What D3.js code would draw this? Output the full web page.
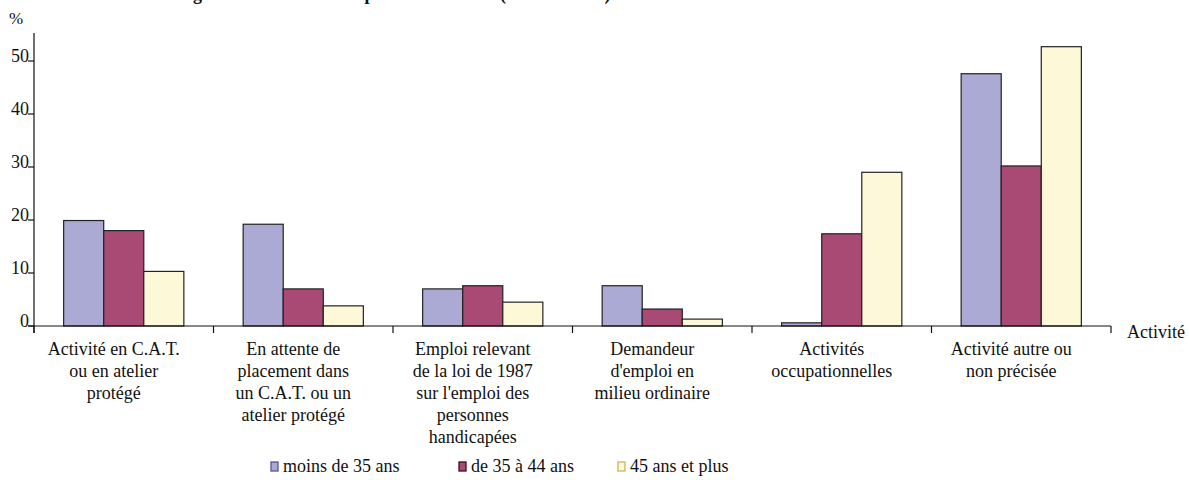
<!DOCTYPE html>
<html>
<head>
<meta charset="utf-8">
<script src="https://cdn.jsdelivr.net/npm/d3@7/dist/d3.min.js"></script>
<style>
  body { margin: 0; background: #fff; }
</style>
</head>
<body>
<div id="main"></div>
<script>
// données
const categories = [
    ["Activité en C.A.T.", "ou en atelier", "protégé"],
    ["En attente de", "placement dans", "un C.A.T. ou un", "atelier protégé"],
    ["Emploi relevant", "de la loi de 1987", "sur l'emploi des", "personnes", "handicapées"],
    ["Demandeur", "d'emploi en", "milieu ordinaire"],
    ["Activités", "occupationnelles"],
    ["Activité autre ou", "non précisée"]
];
const series = ["moins de 35 ans", "de 35 à 44 ans", "45 ans et plus"];
const moins35 = [19.9, 19.2, 7.0, 7.6, 0.6, 47.6];
const de35a44 = [18.0, 7.0, 7.6, 3.2, 17.4, 30.2];
const plus45 = [10.3, 3.8, 4.5, 1.3, 29.0, 52.7];
const yTicks = [0, 10, 20, 30, 40, 50];
const titre = "Activité selon l'âge des adultes handicapés en institution (en % des cas)";

const ctx = {
    w: 1189,
    h: 480,
    left: 34,
    right: 1111,
    bottom: 326,
    axisTop: 33,
    font: "Liberation Serif",
    colors: ["#aaaad4", "#a94a75", "#fdf8d8"],
    legendStroke: ["#55559a", "#3a0f22", "#c9b660"],
};

function addText(sel, size){
    return sel.append("text")
        .attr("font-family", ctx.font)
        .attr("font-size", size)
        .attr("fill", "#111");
}

function createViz(){
    let svg = d3.select("#main").append("svg")
        .attr("width", ctx.w)
        .attr("height", ctx.h);

    const values = [moins35, de35a44, plus45];
    const data = categories.map((c, i) => ({ idx: i, vals: values.map(v => v[i]) }));

    const x0 = d3.scaleBand().domain(d3.range(categories.length))
        .range([ctx.left, ctx.right]).padding(0);
    const x1 = d3.scaleBand().domain(d3.range(series.length))
        .range([0, x0.bandwidth()]).paddingInner(0).paddingOuter(0.74);
    const y = d3.scaleLinear().domain([0, 50]).range([ctx.bottom, 61]);

    // titre (coupé en haut dans l'original, on n'en voit que le bas)
    addText(svg, 18)
        .attr("x", 66).attr("y", 0)
        .attr("font-weight", "bold")
        .text(titre);

    // barres
    const groups = svg.append("g").selectAll("g")
        .data(data).enter().append("g")
        .attr("transform", d => `translate(${x0(d.idx)},0)`);
    groups.selectAll("rect")
        .data(d => d.vals.map((v, s) => ({ v: v, s: s })))
        .enter().append("rect")
        .attr("x", d => x1(d.s))
        .attr("y", d => y(d.v))
        .attr("width", x1.bandwidth())
        .attr("height", d => y(0) - y(d.v))
        .attr("fill", d => ctx.colors[d.s])
        .attr("stroke", "#222")
        .attr("stroke-width", 1.2);

    // axe y
    const ax = svg.append("g").attr("stroke", "#111").attr("stroke-width", 1.2);
    ax.append("line").attr("x1", ctx.left).attr("x2", ctx.left)
        .attr("y1", ctx.axisTop).attr("y2", ctx.bottom + 7);
    ax.selectAll("line.yt").data(yTicks).enter().append("line")
        .attr("class", "yt")
        .attr("x1", ctx.left - 6).attr("x2", ctx.left)
        .attr("y1", d => y(d)).attr("y2", d => y(d));
    const yl = svg.append("g");
    yTicks.forEach(t => {
        addText(yl, 18)
            .attr("x", ctx.left - 5).attr("y", y(t) + 1)
            .attr("text-anchor", "end")
            .text(t);
    });
    addText(svg, 17).attr("x", 9).attr("y", 24).text("%");

    // axe x
    ax.append("line").attr("x1", ctx.left - 6).attr("x2", ctx.right)
        .attr("y1", ctx.bottom).attr("y2", ctx.bottom);
    ax.selectAll("line.xt").data(d3.range(categories.length + 1)).enter().append("line")
        .attr("class", "xt")
        .attr("x1", i => ctx.left + i * x0.step()).attr("x2", i => ctx.left + i * x0.step())
        .attr("y1", ctx.bottom).attr("y2", ctx.bottom + 7);

    // étiquettes des catégories (un peu décalées vers la gauche comme dans l'original)
    const labs = svg.append("g");
    data.forEach(d => {
        const t = addText(labs, 18).attr("text-anchor", "middle");
        t.selectAll("tspan").data(categories[d.idx]).enter().append("tspan")
            .attr("x", x0(d.idx) + x0.bandwidth() / 2 - 10)
            .attr("y", (l, j) => 355 + j * 22)
            .text(l => l);
    });

    addText(svg, 18).attr("x", 1127).attr("y", 338).text("Activité");

    // légende
    const legX = [271, 459, 618];
    const leg = svg.append("g").selectAll("g")
        .data(series).enter().append("g")
        .attr("transform", (d, i) => `translate(${legX[i]},462)`);
    leg.append("rect")
        .attr("x", 0).attr("y", 0).attr("width", 7).attr("height", 9)
        .attr("fill", (d, i) => ctx.colors[i])
        .attr("stroke", (d, i) => ctx.legendStroke[i])
        .attr("stroke-width", 1.3);
    leg.each(function(d){
        addText(d3.select(this), 18).attr("x", 12).attr("y", 10).text(d);
    });
}

createViz();
</script>
</body>
</html>
